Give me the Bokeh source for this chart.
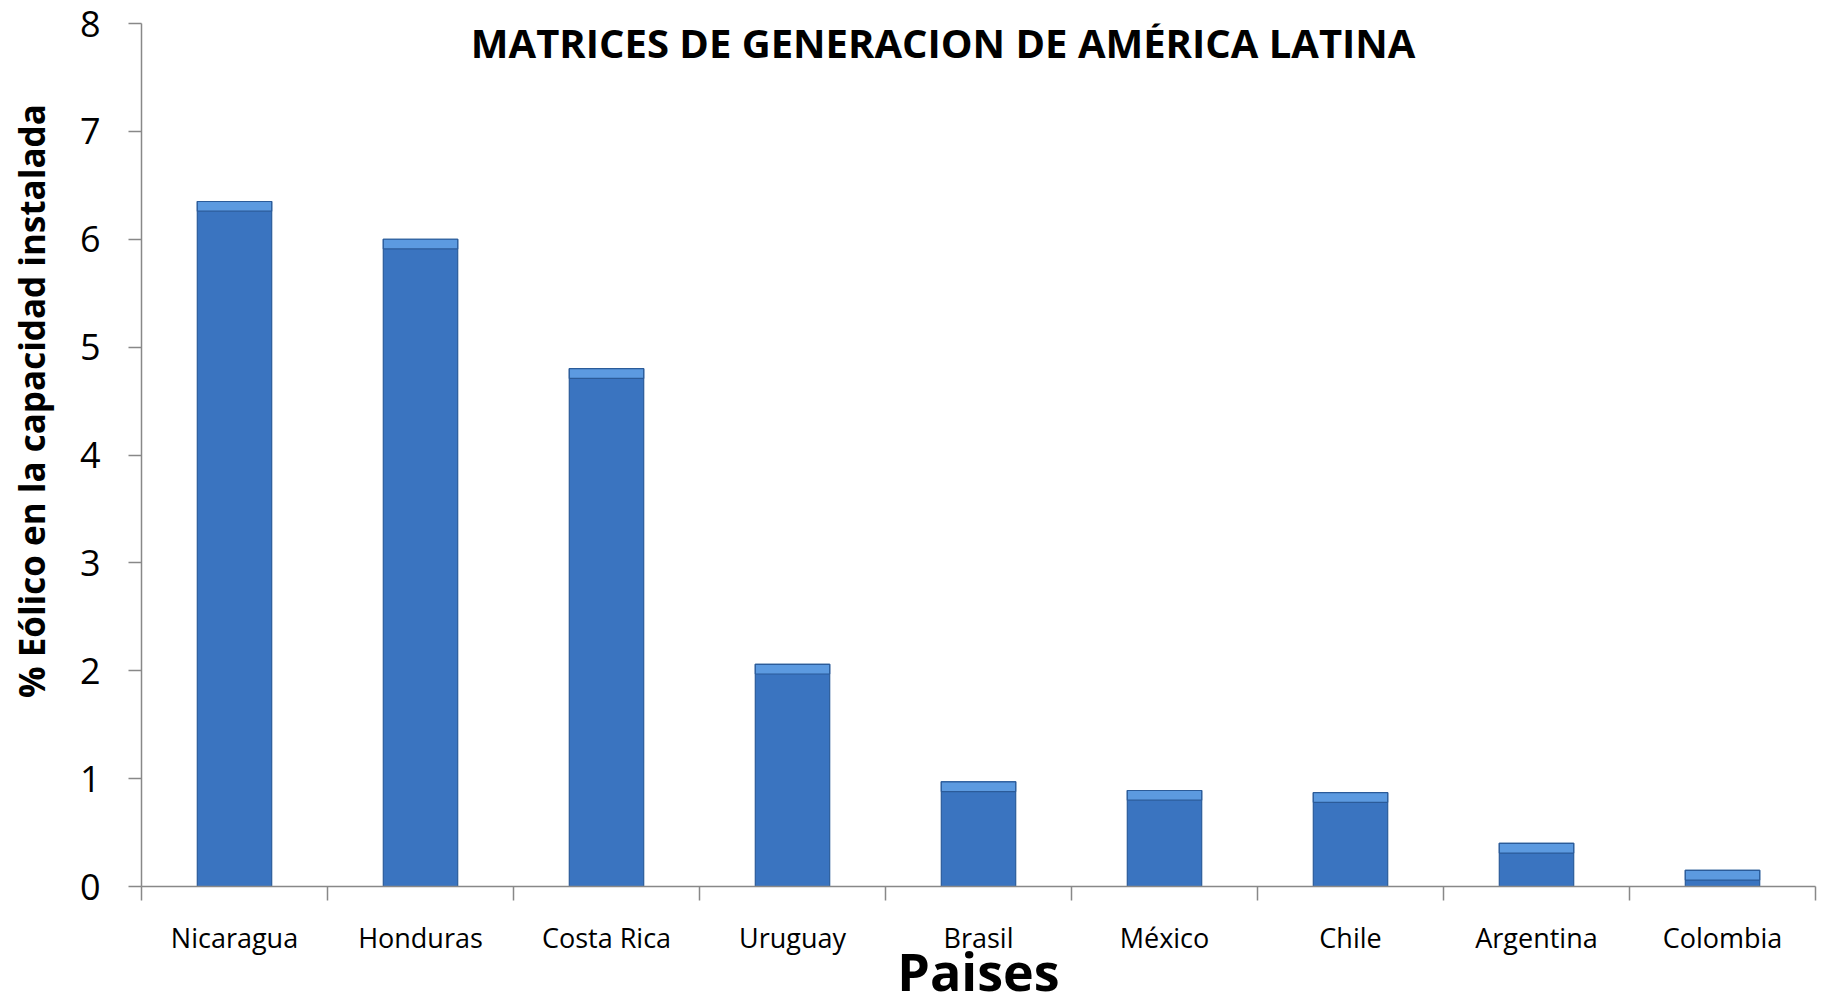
import math
from bokeh.plotting import figure
from bokeh.layouts import row
from bokeh.models import FixedTicker, Label, Range1d, ColumnDataSource
from bokeh.embed import file_html
from bokeh.resources import INLINE

paises = ["Nicaragua", "Honduras", "Costa Rica", "Uruguay", "Brasil",
          "México", "Chile", "Argentina", "Colombia"]
eolico = [6.35, 6.0, 4.8, 2.06, 0.97, 0.89, 0.87, 0.40, 0.15]
y_ticks = [0, 1, 2, 3, 4, 5, 6, 7, 8]

titulo = "MATRICES DE GENERACION DE AMÉRICA LATINA"
eje_y = "% Eólico en la capacidad instalada"
eje_x = "Paises"

FONT = "Open Sans"
H = 1008
TOP = 23
LAB_W = 62

centros = [i + 0.5 for i in range(len(paises))]
limites = list(range(len(paises) + 1))

src = ColumnDataSource(dict(
    x=centros,
    top=eolico,
    bevel=[v - 0.09 for v in eolico],
))

p = figure(width=1820 - LAB_W, height=H,
           x_range=Range1d(0, len(paises)), y_range=Range1d(0, 8),
           output_backend="svg", toolbar_location=None,
           min_border_left=141 - LAB_W, min_border_right=5,
           min_border_top=TOP, min_border_bottom=100)
p.grid.visible = False
p.outline_line_color = None
p.background_fill_color = "white"

# bars
p.vbar(x="x", top="top", bottom=0, width=0.4, source=src,
       fill_color="#3A74C0", line_color="#2B5B99", line_width=1.2)
p.vbar(x="x", top="top", bottom="bevel", width=0.4, source=src,
       fill_color="#5C9AE0", line_color="#2B5B99", line_width=1.2)

# x axis
xa = p.xaxis[0]
xa.ticker = FixedTicker(ticks=centros, minor_ticks=limites)
xa.major_label_overrides = {c: n for c, n in zip(centros, paises)}
xa.major_tick_out = 0
xa.major_tick_in = 0
xa.minor_tick_out = 14
xa.minor_tick_in = 0
xa.minor_tick_line_color = "#888888"
xa.minor_tick_line_width = 1.5
xa.axis_line_color = "#888888"
xa.axis_line_width = 1.5
xa.major_label_text_font = FONT
xa.major_label_text_font_size = "27px"
xa.major_label_text_color = "black"
xa.major_label_standoff = 18
xa.axis_label = eje_x
xa.axis_label_text_font = FONT
xa.axis_label_text_font_style = "bold"
xa.axis_label_text_font_size = "52px"
xa.axis_label_text_color = "black"
xa.axis_label_standoff = -24

# y axis
ya = p.yaxis[0]
ya.ticker = FixedTicker(ticks=y_ticks)
ya.major_tick_out = 13
ya.major_tick_in = 0
ya.minor_tick_out = 0
ya.major_tick_line_color = "#888888"
ya.major_tick_line_width = 1.5
ya.axis_line_color = "#888888"
ya.axis_line_width = 1.5
ya.major_label_text_font = FONT
ya.major_label_text_font_size = "36px"
ya.major_label_text_color = "black"
ya.major_label_standoff = 28

p.add_layout(Label(x=4.31, y=7.82, text=titulo,
                   text_align="center", text_baseline="middle",
                   text_font=FONT, text_font_style="bold",
                   text_font_size="40px", text_color="black"))

# narrow panel holding the y-axis title, sharing the vertical scale
lab = figure(width=LAB_W, height=H,
             x_range=Range1d(0, LAB_W), y_range=p.y_range,
             output_backend="svg", toolbar_location=None,
             x_axis_location=None, y_axis_location=None,
             min_border_left=0, min_border_right=0,
             min_border_top=TOP, min_border_bottom=122)
lab.grid.visible = False
lab.outline_line_color = None
lab.add_layout(Label(x=31, y=4.5, text=eje_y, angle=math.pi / 2,
                     text_align="center", text_baseline="middle",
                     text_font=FONT, text_font_style="bold",
                     text_font_size="35px", text_color="black"))

layout = row(lab, p)
open("out.html", "w").write(file_html(layout, INLINE))
